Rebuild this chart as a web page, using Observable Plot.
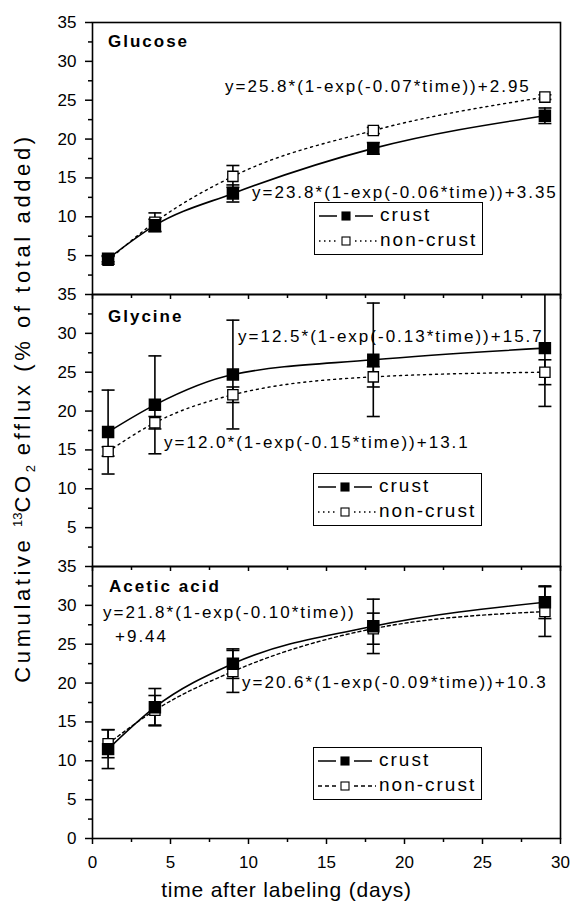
<!DOCTYPE html>
<html>
<head>
<meta charset="utf-8">
<script src="https://cdn.jsdelivr.net/npm/d3@7"></script>
<script src="https://cdn.jsdelivr.net/npm/@observablehq/plot@0.6"></script>
<style>
  html, body { margin: 0; padding: 0; background: white; }
  #wrap { position: relative; width: 573px; height: 905px; overflow: hidden; font-family: "Liberation Sans", Arial, sans-serif; color: black; }
  #wrap svg.panel { position: absolute; left: 0; }
  .ann { position: absolute; white-space: nowrap; font-size: 17px; line-height: 18px; letter-spacing: 2px; }
  .ann.bold { font-weight: bold; }
  .legend { position: absolute; width: 167px; height: 51px; border: 1.5px solid black; background: white; }
  .legend .row { position: absolute; left: 3px; width: 160px; height: 20px; display: flex; align-items: center; }
  .legend .row span { position: absolute; left: 62px; font-size: 19px; letter-spacing: 2px; line-height: 20px; top: -1px; white-space: nowrap; }
  .xtitle { position: absolute; left: 0; width: 573px; text-align: center; font-size: 21px; letter-spacing: 0.8px; top: 878px; line-height: 24px; }
  .ytitle { position: absolute; font-size: 22px; letter-spacing: 3.6px; white-space: nowrap; line-height: 24px;
            left: 24px; top: 408px; transform: translate(-50%, -50%) rotate(-90deg); }
  .ytitle sup, .ytitle sub { font-size: 13px; letter-spacing: 0; }
  .ytitle sup { vertical-align: 8px; }
  .ytitle sub { vertical-align: -5px; }
</style>
</head>
<body>
<div id="wrap"></div>
<script>
// ---- data ----
const days = [1, 4, 9, 18, 29];

const glucoseCrust     = [4.6, 8.9, 13.0, 18.8, 23.0];
const glucoseCrustErr  = [0.4, 0.8, 1.1, 0.75, 1.0];
const glucoseNon       = [4.4, 9.3, 15.2, 21.1, 25.4];
const glucoseNonErr    = [0.5, 1.2, 1.4, 0.4, 0.3];

const glycineCrust     = [17.3, 20.8, 24.7, 26.6, 28.1];
const glycineCrustErr  = [5.4, 6.3, 7.0, 7.3, 7.5];
const glycineNon       = [14.8, 18.5, 22.1, 24.4, 25.0];
const glycineNonErr    = [0.6, 0.8, 1.0, 1.3, 1.6];

const aceticCrust      = [11.5, 16.9, 22.5, 27.3, 30.4];
const aceticCrustErr   = [2.5, 2.4, 1.9, 3.5, 2.1];
const aceticNon        = [12.2, 16.5, 21.5, 27.0, 29.2];
const aceticNonErr     = [1.8, 1.9, 2.7, 2.0, 3.2];

const panelNames = ["Glucose", "Glycine", "Acetic acid"];
const seriesNames = ["crust", "non-crust"];
const equations = [
  ["y=25.8*(1-exp(-0.07*time))+2.95", "y=23.8*(1-exp(-0.06*time))+3.35"],
  ["y=12.5*(1-exp(-0.13*time))+15.7", "y=12.0*(1-exp(-0.15*time))+13.1"],
  ["y=21.8*(1-exp(-0.10*time))", "+9.44", "y=20.6*(1-exp(-0.09*time))+10.3"]
];

const xMajor = [0, 5, 10, 15, 20, 25, 30];
const xMinor = [2.5, 7.5, 12.5, 17.5, 22.5, 27.5];
const yMajorUpper = [5, 10, 15, 20, 25, 30, 35];
const yMajorBottom = [0, 5, 10, 15, 20, 25, 30, 35];
const yMinor = [2.5, 7.5, 12.5, 17.5, 22.5, 27.5, 32.5];

const xTitle = "time after labeling (days)";

// ---- drawing ----
const wrap = document.getElementById("wrap");
const cap = {draw(ctx) { ctx.moveTo(-6.5, 0); ctx.lineTo(6.5, 0); }};

function rows(vals, errs) {
  return days.map((t, i) => ({t, v: vals[i], e: errs[i]}));
}

function panel({crust, crustErr, non, nonErr, dash, yTicks, bottom, top, mb}) {
  const c = rows(crust, crustErr);
  const n = rows(non, nonErr);
  const errMarks = (d) => [
    Plot.ruleX(d, {x: "t", y1: r => r.v - r.e, y2: r => r.v + r.e, stroke: "black", strokeWidth: 1.6, clip: true}),
    Plot.dot(d, {x: "t", y: r => r.v + r.e, symbol: cap, r: 2, stroke: "black", strokeWidth: 1.6, clip: true}),
    Plot.dot(d, {x: "t", y: r => r.v - r.e, symbol: cap, r: 2, stroke: "black", strokeWidth: 1.6, clip: true})
  ];
  const svg = Plot.plot({
    width: 573,
    height: 22 + 272 + mb,
    marginLeft: 92,
    marginRight: 13,
    marginTop: 22,
    marginBottom: mb,
    style: {background: "transparent", overflow: "visible", fontFamily: "Liberation Sans, Arial, sans-serif", fontSize: "17px", color: "black"},
    x: {domain: [0, 30]},
    y: {domain: [0, 35]},
    marks: [
      Plot.axisY(yTicks, {tickSize: 7, tickPadding: 9, fontSize: 17, label: null, strokeWidth: 1.5}),
      Plot.axisY(yMinor, {tickSize: 4, text: null, label: null, strokeWidth: 1.5}),
      bottom
        ? Plot.axisX(xMajor, {tickSize: 6, tickPadding: 11, fontSize: 17, label: null, strokeWidth: 1.5})
        : Plot.axisX(xMajor, {tickSize: 5, text: null, label: null, strokeWidth: 1.5}),
      Plot.axisX(xMinor, {tickSize: 4, text: null, label: null, strokeWidth: 1.5}),
      Plot.line(n, {x: "t", y: "v", curve: "monotone-x", stroke: "black", strokeWidth: 1.4, strokeDasharray: dash}),
      Plot.line(c, {x: "t", y: "v", curve: "monotone-x", stroke: "black", strokeWidth: 1.6}),
      ...errMarks(n),
      ...errMarks(c),
      Plot.dot(n, {x: "t", y: "v", symbol: "square", r: 5.8, fill: "white", stroke: "black", strokeWidth: 1.3}),
      Plot.dot(c, {x: "t", y: "v", symbol: "square", r: 6.2, fill: "black", stroke: "black"}),
      Plot.frame({stroke: "black", strokeWidth: 1.6})
    ]
  });
  svg.classList.add("panel");
  svg.style.top = (top - 22) + "px";
  wrap.appendChild(svg);
}

panel({crust: glucoseCrust, crustErr: glucoseCrustErr, non: glucoseNon, nonErr: glucoseNonErr, dash: "2,4", yTicks: yMajorUpper, bottom: false, top: 22, mb: 10});
panel({crust: glycineCrust, crustErr: glycineCrustErr, non: glycineNon, nonErr: glycineNonErr, dash: "2,4", yTicks: yMajorUpper, bottom: false, top: 294, mb: 10});
panel({crust: aceticCrust, crustErr: aceticCrustErr, non: aceticNon, nonErr: aceticNonErr, dash: "3,3", yTicks: yMajorBottom, bottom: true, top: 566, mb: 67});

function ann(text, left, cy, bold) {
  const d = document.createElement("div");
  d.className = "ann" + (bold ? " bold" : "");
  d.textContent = text;
  d.style.left = left + "px";
  d.style.top = (cy - 9) + "px";
  wrap.appendChild(d);
}

function legend(left, top, dash) {
  const d = document.createElement("div");
  d.className = "legend";
  d.style.left = left + "px";
  d.style.top = top + "px";
  const sample = (filled, dsh) =>
    `<svg width="60" height="14" style="display:block">
      <line x1="1" x2="19" y1="7" y2="7" stroke="black" stroke-width="1.5" ${dsh ? `stroke-dasharray="${dsh}"` : ""}/>
      <rect x="24" y="3" width="8" height="8" fill="${filled ? "black" : "white"}" stroke="black" stroke-width="1.1"/>
      <line x1="37" x2="${filled ? 55 : 59}" y1="7" y2="7" stroke="black" stroke-width="1.5" ${dsh ? `stroke-dasharray="${dsh}"` : ""}/>
    </svg>`;
  d.innerHTML =
    `<div class="row" style="top:3px">${sample(true, null)}<span>${seriesNames[0]}</span></div>
     <div class="row" style="top:28px">${sample(false, dash)}<span>${seriesNames[1]}</span></div>`;
  wrap.appendChild(d);
}

// panel 1
ann(panelNames[0], 108, 42, true);
ann(equations[0][0], 225, 87);
ann(equations[0][1], 252, 193);
legend(314, 202, "1.5,3.5");
// panel 2
ann(panelNames[1], 108, 317, true);
ann(equations[1][0], 238, 337);
ann(equations[1][1], 164, 443);
legend(313, 473, "1.5,3.5");
// panel 3
ann(panelNames[2], 109, 587, true);
ann(equations[2][0], 103, 613);
ann(equations[2][1], 115, 637);
ann(equations[2][2], 242, 683);
legend(313, 747, "4,3");

const xt = document.createElement("div");
xt.className = "xtitle";
xt.textContent = xTitle;
wrap.appendChild(xt);

const yt = document.createElement("div");
yt.className = "ytitle";
yt.innerHTML = "Cumulative <sup>13</sup>CO<sub>2</sub> efflux (% of total added)";
wrap.appendChild(yt);
</script>
</body>
</html>
